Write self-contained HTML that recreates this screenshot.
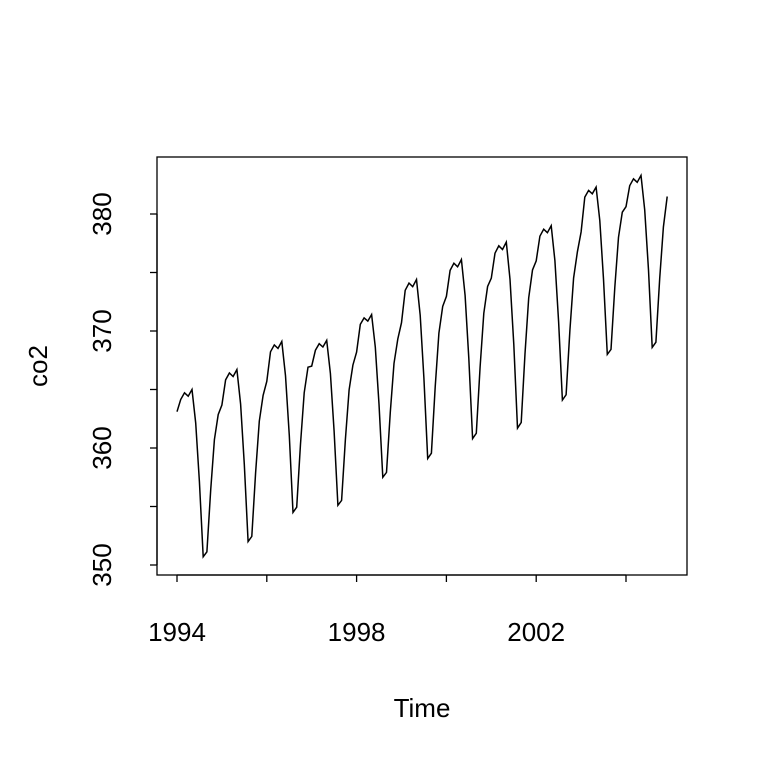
<!DOCTYPE html>
<html><head><style>body{margin:0;background:#fff}svg{display:block}text{font-family:"Liberation Sans",Arial,sans-serif;font-size:26px;fill:#000}</style></head>
<body>
<svg id="s" width="768" height="768" xmlns="http://www.w3.org/2000/svg">
<rect x="157" y="157" width="530" height="418" fill="none" stroke="#000" stroke-width="1.3"/>
<g stroke="#000" stroke-width="1.3">
<line x1="177" y1="575" x2="626" y2="575"/>
<line x1="177" y1="575" x2="177" y2="582"/><line x1="266.8" y1="575" x2="266.8" y2="582"/><line x1="356.6" y1="575" x2="356.6" y2="582"/><line x1="446.4" y1="575" x2="446.4" y2="582"/><line x1="536.2" y1="575" x2="536.2" y2="582"/><line x1="626" y1="575" x2="626" y2="582"/>
<line x1="157" y1="565" x2="157" y2="214"/>
<line x1="157" y1="565" x2="150" y2="565"/><line x1="157" y1="506.5" x2="150" y2="506.5"/><line x1="157" y1="448" x2="150" y2="448"/><line x1="157" y1="389.5" x2="150" y2="389.5"/><line x1="157" y1="331" x2="150" y2="331"/><line x1="157" y1="272.5" x2="150" y2="272.5"/><line x1="157" y1="214" x2="150" y2="214"/>
</g>
<text x="177" y="641" text-anchor="middle">1994</text>
<text x="356.6" y="641" text-anchor="middle">1998</text>
<text x="536.2" y="641" text-anchor="middle">2002</text>
<text transform="translate(111,565) rotate(-90)" text-anchor="middle">350</text>
<text transform="translate(111,448) rotate(-90)" text-anchor="middle">360</text>
<text transform="translate(111,331) rotate(-90)" text-anchor="middle">370</text>
<text transform="translate(111,214) rotate(-90)" text-anchor="middle">380</text>
<text x="422" y="717" text-anchor="middle">Time</text>
<text transform="translate(47,366) rotate(-90)" text-anchor="middle">co2</text>
<polyline id="p" fill="none" stroke="#000" stroke-width="1.5" points=""/>
</svg>
<script>
var yr=[[365,350.7],[366.7,352],[369.1,354.5],[369.2,355.1],[371.4,357.5],[374.4,359.1],[376.1,360.8],[377.6,361.7],[379,364.1],[382.3,368],[383.3,368.6]];
var f=[.85,.94,.98,.96,1,.8,.45,0,.03,.4,.7,.85];
var pts=[];
for(var i=0;i<11;i++)for(var m=0;m<12;m++){
 var p=yr[i][0],t=yr[i][1];
 if(m==0&&i>0){t=(t+yr[i-1][1])/2;p=(p+yr[i-1][0])/2;}
 var v=t+(p-t)*f[m];
 if(i==0&&m==0)v=363.1;
 if(i==10&&m==11)v=381.5;
 var x=177+(i+m/12)*44.9, y=565-(v-350)*11.7;
 pts.push(x.toFixed(1)+","+y.toFixed(1));
}
document.getElementById("p").setAttribute("points",pts.join(" "));
</script>
</body></html>
